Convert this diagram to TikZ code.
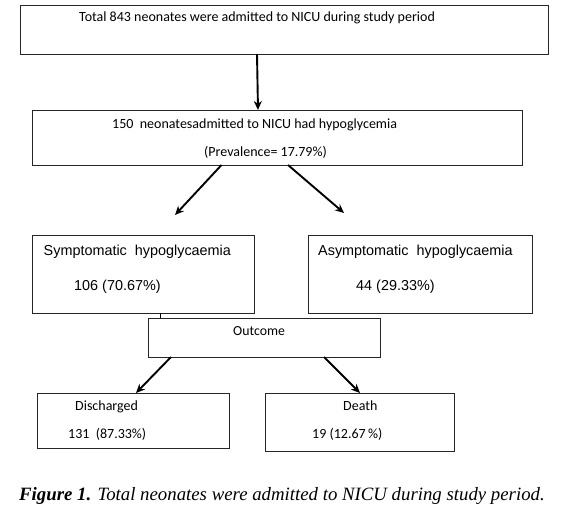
\documentclass[tikz,border=0pt]{standalone}
\usepackage{fontspec}
\setmainfont{Liberation Serif}
\newfontfamily\calfont{Carlito}
\newfontfamily\arfont{Liberation Sans}
\usetikzlibrary{arrows.meta}
\tikzset{
  box/.style={draw=black!85,line width=0.8pt,inner sep=0pt},
  arr/.style={line width=1.9pt,-{Stealth[length=9pt,width=8pt]}},
  lbl/.style={anchor=base west,inner sep=0pt}
}
\begin{document}
\begin{tikzpicture}[x=1pt,y=-1pt]
  \useasboundingbox[fill=white] (0,0) rectangle (578,511);
  \node[box,minimum width=528pt,minimum height=49pt] (total) at (284,29.5) {};
  \node[box,minimum width=490pt,minimum height=55pt] (hypo) at (277,137.5) {};
  \node[box,minimum width=222pt,minimum height=78pt] (sympt) at (143.5,274) {};
  \node[box,minimum width=224pt,minimum height=78pt] (asympt) at (420,274) {};
  \node[box,minimum width=232pt,minimum height=39pt] (outcome) at (264.5,337.5) {};
  \node[box,minimum width=192pt,minimum height=55pt] (disch) at (133,420.5) {};
  \node[box,minimum width=189pt,minimum height=58pt] (death) at (359.5,422) {};
  \node[lbl,font=\calfont\fontsize{14}{16}\selectfont] (t1) at (79,22) {Total 843 neonates were admitted to NICU during study period};
  \node[lbl,font=\calfont\fontsize{14}{16}\selectfont] (t2) at (112,128) {150\ \ neonatesadmitted to NICU had hypoglycemia};
  \node[lbl,font=\calfont\fontsize{14}{16}\selectfont] (t3) at (204,156) {(Prevalence= 17.79\%)};
  \node[lbl,font=\arfont\fontsize{14.4}{17}\selectfont] (t4) at (43.5,255) {Symptomatic\ \ hypoglycaemia};
  \node[lbl,font=\arfont\fontsize{14.4}{17}\selectfont] (t5) at (74,290.5) {106 (70.67\%)};
  \node[lbl,font=\arfont\fontsize{14.4}{17}\selectfont] (t6) at (318,255) {Asymptomatic\ \ hypoglycaemia};
  \node[lbl,font=\arfont\fontsize{14.4}{17}\selectfont] (t7) at (356,290.5) {44 (29.33\%)};
  \node[lbl,font=\calfont\fontsize{13.8}{16}\selectfont] (t8) at (233,335) {Outcome};
  \node[lbl,font=\calfont\fontsize{14}{16}\selectfont] (t9) at (75,410) {Discharged};
  \node[lbl,font=\calfont\fontsize{14}{16}\selectfont] (t10) at (68,438) {131\ \ (87.33\%)};
  \node[lbl,font=\calfont\fontsize{14}{16}\selectfont] (t11) at (343,410) {Death};
  \node[lbl,font=\calfont\fontsize{14}{16}\selectfont] (t12) at (312,438) {19 (12.67\,\%)};
  \node[lbl,font=\fontsize{18.8}{22}\selectfont\itshape] (cap) at (19,500) {\textbf{Figure 1.} Total neonates were admitted to NICU during study period.};
  \coordinate (a1s) at (257,54);
  \coordinate (a1e) at (258,110);
  \coordinate (a2s) at (221.5,165);
  \coordinate (a2e) at (175,215);
  \coordinate (a3s) at (288,165);
  \coordinate (a3e) at (344,213);
  \coordinate (a4s) at (171,357);
  \coordinate (a4e) at (136,393);
  \coordinate (a5s) at (324,357);
  \coordinate (a5e) at (360,393);
  \coordinate (tk) at (160,313);
  \draw[arr] (a1s) -- (a1e);
  \draw[arr] (a2s) -- (a2e);
  \draw[arr] (a3s) -- (a3e);
  \draw[arr] (a4s) -- (a4e);
  \draw[arr] (a5s) -- (a5e);
  \draw[line width=0.6pt] (tk) -- (tk |- outcome.north);
\end{tikzpicture}
\end{document}
